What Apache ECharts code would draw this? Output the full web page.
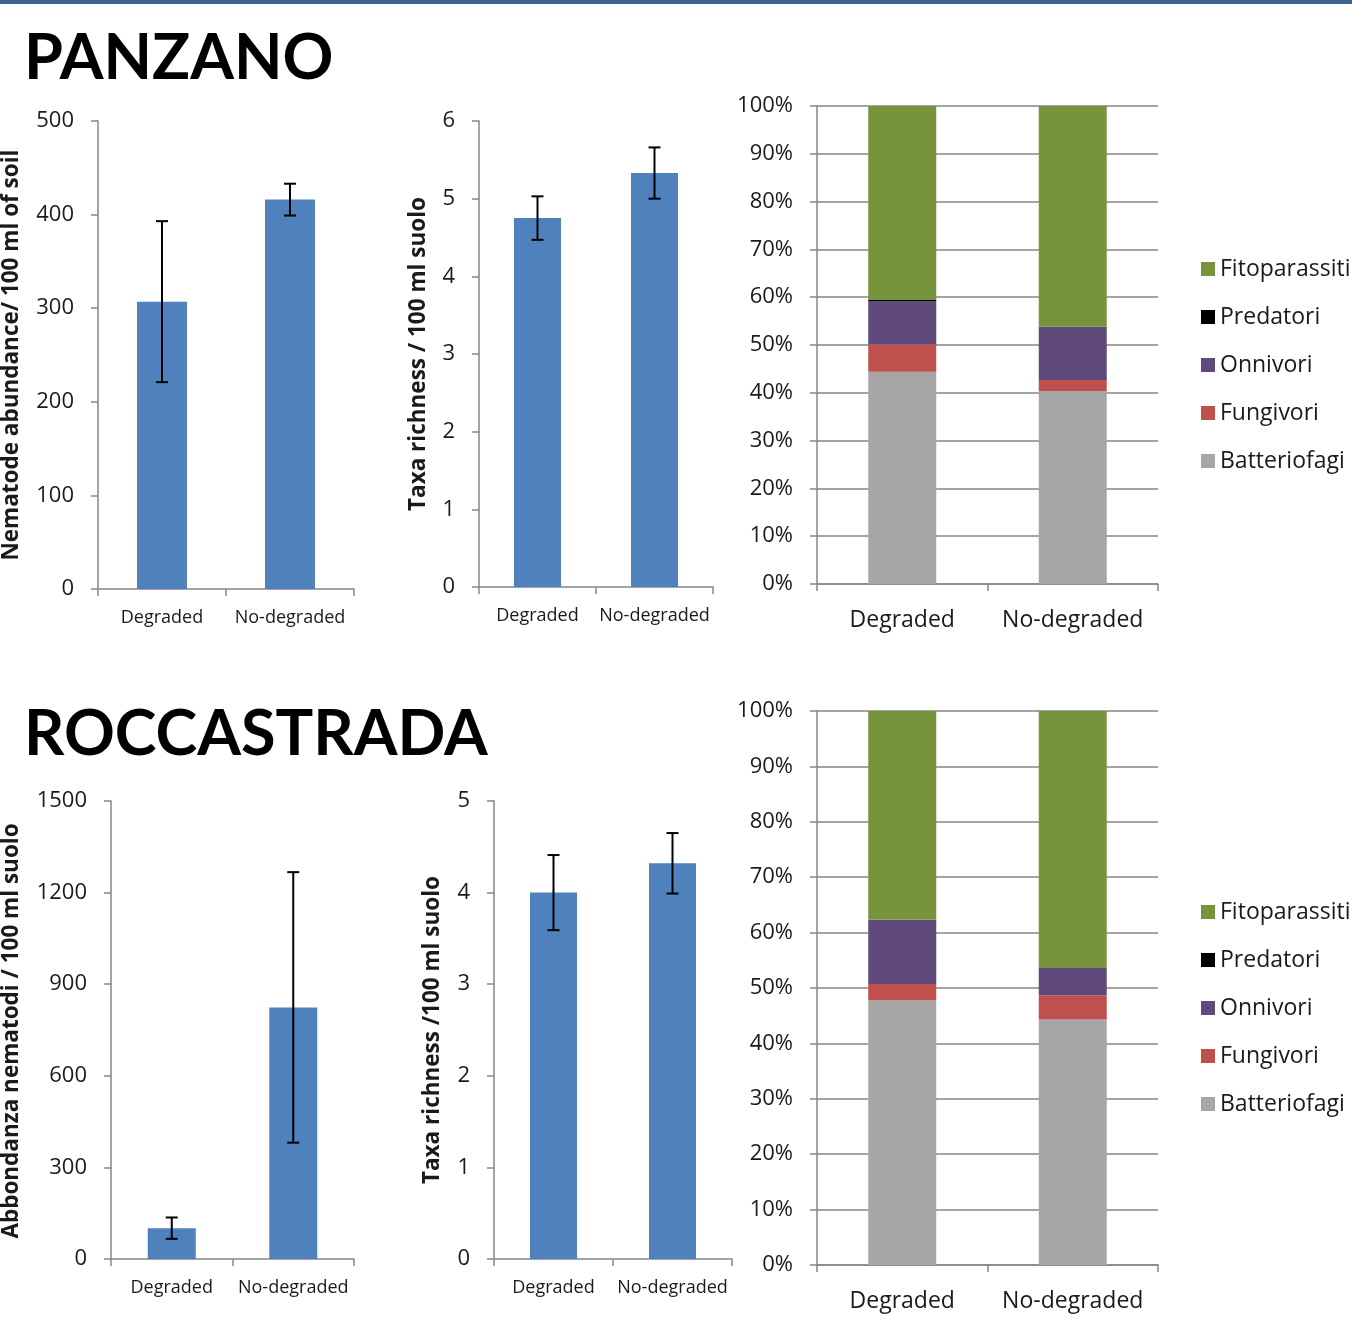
<!DOCTYPE html>
<html>
<head>
<meta charset="utf-8">
<script src="https://cdn.jsdelivr.net/npm/echarts@6/dist/echarts.min.js"></script>
<style>
  html, body { margin: 0; padding: 0; background: #ffffff; }
  #chart { width: 1352px; height: 1330px; }
</style>
</head>
<body>
<div id="chart"></div>
<script>
// ---- data ----
const categories = ['Degraded', 'No-degraded'];

// Panzano
const panzanoAbundance = [307, 416];
const panzanoAbundanceErr = [86, 17];
const panzanoRichness = [4.75, 5.33];
const panzanoRichnessErr = [0.28, 0.33];
const panzanoBatteriofagi = [44.4, 40.4];
const panzanoFungivori = [5.7, 2.3];
const panzanoOnnivori = [9.0, 11.1];
const panzanoPredatori = [0.4, 0.0];
const panzanoFitoparassiti = [40.5, 46.2];

// Roccastrada
const roccaAbundance = [101, 824];
const roccaAbundanceErr = [35, 443];
const roccaRichness = [4.0, 4.32];
const roccaRichnessErr = [0.41, 0.33];
const roccaBatteriofagi = [47.8, 44.3];
const roccaFungivori = [2.9, 4.4];
const roccaOnnivori = [11.6, 4.9];
const roccaPredatori = [0.0, 0.0];
const roccaFitoparassiti = [37.7, 46.4];

// legend order, top to bottom
const legendOrder = ['Fitoparassiti', 'Predatori', 'Onnivori', 'Fungivori', 'Batteriofagi'];

// ---- styling ----
const FONT = '"Open Sans", "Noto Sans", sans-serif';
const TITLE_FONT = 'Lato, "Open Sans", sans-serif';
const AXIS_GREY = '#868686';
const TEXT = '#1a1a1a';
const BAR_BLUE = '#4F81BD';
const guildColors = {
  Batteriofagi: '#A6A6A6',
  Fungivori: '#C0504D',
  Onnivori: '#604A7B',
  Predatori: '#000000',
  Fitoparassiti: '#77933C'
};

const grids = [];
const xAxes = [];
const yAxes = [];
const series = [];

function addGrid(box) {
  grids.push({ left: box[0], top: box[1], width: box[2], height: box[3], containLabel: false });
  return grids.length - 1;
}

function addCategoryAxis(gi, fontSize, margin) {
  xAxes.push({
    type: 'category', gridIndex: gi, data: categories,
    axisLine: { lineStyle: { color: AXIS_GREY, width: 1.5 } },
    axisTick: { show: true, length: 7, lineStyle: { color: AXIS_GREY, width: 1.5 } },
    axisLabel: {
      color: TEXT, fontSize: fontSize, fontFamily: FONT, margin: margin,
      interval: 0, hideOverlap: false
    }
  });
  return xAxes.length - 1;
}

function addValueAxis(gi, max, interval, opts) {
  yAxes.push({
    type: 'value', gridIndex: gi, min: 0, max: max, interval: interval,
    axisLine: { show: true, lineStyle: { color: AXIS_GREY, width: 1.5 } },
    axisTick: { show: true, length: 7, lineStyle: { color: AXIS_GREY, width: 1.5 } },
    axisLabel: {
      color: TEXT, fontSize: opts.fontSize, fontFamily: FONT, margin: opts.margin,
      formatter: function (v) { return String(v) + (opts.suffix || ''); }
    },
    splitLine: { show: !!opts.grid, lineStyle: { color: AXIS_GREY, width: 1.5 } }
  });
  return yAxes.length - 1;
}

// error bar drawn with caps, values given as [category index, low, high]
function errorSeries(xi, yi, values, errors) {
  const data = values.map((v, i) => [i, v - errors[i], v + errors[i]]);
  return {
    type: 'custom', xAxisIndex: xi, yAxisIndex: yi, z: 10, silent: true,
    renderItem: function (params, api) {
      const idx = api.value(0);
      const lo = api.coord([idx, api.value(1)]);
      const hi = api.coord([idx, api.value(2)]);
      const cap = 6;
      const style = { stroke: '#000', lineWidth: 2 };
      return {
        type: 'group',
        children: [
          { type: 'line', shape: { x1: lo[0], y1: lo[1], x2: hi[0], y2: hi[1] }, style: style },
          { type: 'line', shape: { x1: hi[0] - cap, y1: hi[1], x2: hi[0] + cap, y2: hi[1] }, style: style },
          { type: 'line', shape: { x1: lo[0] - cap, y1: lo[1], x2: lo[0] + cap, y2: lo[1] }, style: style }
        ]
      };
    },
    data: data
  };
}

function barPanel(box, values, errors, max, interval, barWidth) {
  const gi = addGrid(box);
  const xi = addCategoryAxis(gi, 18, 20);
  const yi = addValueAxis(gi, max, interval, { fontSize: 22, margin: 24 });
  series.push({
    type: 'bar', xAxisIndex: xi, yAxisIndex: yi, barWidth: barWidth,
    itemStyle: { color: BAR_BLUE }, data: values, silent: true
  });
  series.push(errorSeries(xi, yi, values, errors));
}

function stackPanel(box, guildData, stackId, barWidth) {
  const gi = addGrid(box);
  const xi = addCategoryAxis(gi, 23, 25);
  const yi = addValueAxis(gi, 100, 10, { fontSize: 22, margin: 24, grid: true, suffix: '%' });
  ['Batteriofagi', 'Fungivori', 'Onnivori', 'Predatori', 'Fitoparassiti'].forEach(function (name) {
    series.push({
      name: name, type: 'bar', stack: stackId, xAxisIndex: xi, yAxisIndex: yi,
      barWidth: barWidth, silent: true,
      itemStyle: { color: guildColors[name] },
      data: guildData[name]
    });
  });
}

// PANZANO row
barPanel([98, 121, 256, 468], panzanoAbundance, panzanoAbundanceErr, 500, 100, 50);
barPanel([479, 121, 234, 466], panzanoRichness, panzanoRichnessErr, 6, 1, 47);
stackPanel([817, 106, 341, 478], {
  Batteriofagi: panzanoBatteriofagi, Fungivori: panzanoFungivori, Onnivori: panzanoOnnivori,
  Predatori: panzanoPredatori, Fitoparassiti: panzanoFitoparassiti
}, 'panzano', 68);

// ROCCASTRADA row
barPanel([111, 801, 243, 458], roccaAbundance, roccaAbundanceErr, 1500, 300, 48);
barPanel([494, 801, 238, 458], roccaRichness, roccaRichnessErr, 5, 1, 47);
stackPanel([817, 711, 341, 554], {
  Batteriofagi: roccaBatteriofagi, Fungivori: roccaFungivori, Onnivori: roccaOnnivori,
  Predatori: roccaPredatori, Fitoparassiti: roccaFitoparassiti
}, 'rocca', 68);

function legendAt(top) {
  return {
    orient: 'vertical', left: 1196, top: top,
    data: legendOrder, icon: 'rect', itemWidth: 14, itemHeight: 14, itemGap: 24,
    selectedMode: false,
    textStyle: { color: TEXT, fontSize: 23, fontFamily: FONT, lineHeight: 24, padding: [0, 0, 0, 0] }
  };
}

function sideTitle(text, x, y) {
  return {
    type: 'text', x: x, y: y, rotation: Math.PI / 2, silent: true,
    style: {
      text: text, align: 'center', verticalAlign: 'middle',
      fontSize: 22.5, fontWeight: 'bold', fontFamily: FONT, fill: TEXT
    }
  };
}

function blockTitle(text, x, y) {
  return {
    type: 'text', x: x, y: y, silent: true,
    style: { text: text, fontSize: 63, fontWeight: 'bold', fontFamily: TITLE_FONT, fill: '#000', verticalAlign: 'top' }
  };
}

const chart = echarts.init(document.getElementById('chart'), null, { renderer: 'canvas' });
chart.setOption({
  animation: false,
  backgroundColor: '#ffffff',
  grid: grids,
  xAxis: xAxes,
  yAxis: yAxes,
  legend: [legendAt(252), legendAt(895)],
  series: series,
  graphic: [
    { type: 'rect', shape: { x: 0, y: 0, width: 1352, height: 4 }, style: { fill: '#3E6292' }, silent: true },
    blockTitle('PANZANO', 24, 27),
    blockTitle('ROCCASTRADA', 24, 703),
    sideTitle('Nematode abundance/ 100 ml of soil', 12, 355),
    sideTitle('Taxa richness / 100 ml suolo', 419, 354),
    sideTitle('Abbondanza nematodi / 100 ml suolo', 12, 1031),
    sideTitle('Taxa richness /100 ml suolo', 433, 1030)
  ]
});
</script>
</body>
</html>
